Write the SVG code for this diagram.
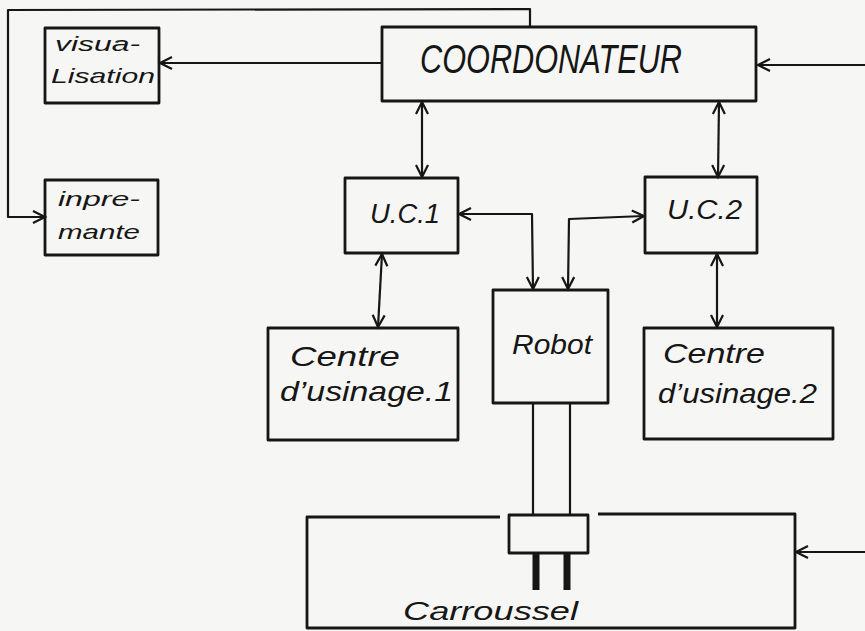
<svg xmlns="http://www.w3.org/2000/svg" width="865" height="631" viewBox="0 0 865 631">
<style>
.bx{fill:none;stroke:#161616;stroke-width:2.8;stroke-linejoin:round}
.ln{fill:none;stroke:#161616;stroke-width:2.2;stroke-linejoin:round}
.t{font-family:"Liberation Sans","DejaVu Sans",sans-serif;font-style:italic;fill:#161616}
</style>
<defs>
<marker id="ah" markerUnits="userSpaceOnUse" markerWidth="16" markerHeight="16" refX="13" refY="7" orient="auto-start-reverse">
<path d="M1,1 L13,7 L1,13" fill="none" stroke="#161616" stroke-width="2.2"/>
</marker>
</defs>
<rect width="865" height="631" fill="#f6f6f4"/>
<g id="connectors">
<line class="ln" x1="382" y1="63" x2="160" y2="63" marker-end="url(#ah)"/>
<polyline class="ln" points="530,27 530,9 8,10 8,217 45,217" marker-end="url(#ah)"/>
<line class="ln" x1="422" y1="102" x2="422" y2="177" marker-start="url(#ah)" marker-end="url(#ah)"/>
<line class="ln" x1="719" y1="102" x2="718" y2="177" marker-start="url(#ah)" marker-end="url(#ah)"/>
<line class="ln" x1="382" y1="254" x2="378" y2="327" marker-start="url(#ah)" marker-end="url(#ah)"/>
<line class="ln" x1="717" y1="254" x2="717" y2="327" marker-start="url(#ah)" marker-end="url(#ah)"/>
<polyline class="ln" points="459,214 532,214 533,289" marker-start="url(#ah)" marker-end="url(#ah)"/>
<polyline class="ln" points="568,289 569,219 644,216" marker-start="url(#ah)" marker-end="url(#ah)"/>
<line class="ln" x1="865" y1="65" x2="758" y2="65" marker-end="url(#ah)"/>
<line class="ln" x1="865" y1="552" x2="796" y2="552" marker-end="url(#ah)"/>
<line class="ln" x1="533" y1="404" x2="533" y2="515"/>
<line class="ln" x1="570" y1="404" x2="570" y2="515"/>
</g>
<g id="visualisation">
<rect class="bx" x="45" y="28" width="114" height="75"/>
<text class="t" x="55" y="51" font-size="20" textLength="85" lengthAdjust="spacingAndGlyphs">visua-</text>
<text class="t" x="51" y="83" font-size="21" textLength="104" lengthAdjust="spacingAndGlyphs">Lisation</text>
</g>
<g id="imprimante">
<rect class="bx" x="45" y="180" width="113" height="75"/>
<text class="t" x="58" y="206" font-size="21" textLength="82" lengthAdjust="spacingAndGlyphs">inpre-</text>
<text class="t" x="58" y="239" font-size="21" textLength="82" lengthAdjust="spacingAndGlyphs">mante</text>
</g>
<g id="coordonateur">
<rect class="bx" x="382" y="27" width="374" height="74"/>
<text class="t" x="420" y="73" font-size="40" textLength="262" lengthAdjust="spacingAndGlyphs">COORDONATEUR</text>
</g>
<g id="uc1">
<rect class="bx" x="345" y="178" width="113" height="75"/>
<text class="t" x="370" y="223" font-size="27" textLength="70" lengthAdjust="spacingAndGlyphs">U.C.1</text>
</g>
<g id="uc2">
<rect class="bx" x="645" y="177" width="112" height="76"/>
<text class="t" x="667" y="219" font-size="27" textLength="75" lengthAdjust="spacingAndGlyphs">U.C.2</text>
</g>
<g id="robot">
<rect class="bx" x="493" y="290" width="115" height="113"/>
<text class="t" x="512" y="354" font-size="28" textLength="80" lengthAdjust="spacingAndGlyphs">Robot</text>
</g>
<g id="centre1">
<rect class="bx" x="268" y="328" width="190" height="112"/>
<text class="t" x="290" y="366" font-size="28" textLength="110" lengthAdjust="spacingAndGlyphs">Centre</text>
<text class="t" x="280" y="401" font-size="28" textLength="173" lengthAdjust="spacingAndGlyphs">d’usinage.1</text>
</g>
<g id="centre2">
<rect class="bx" x="644" y="328" width="189" height="111"/>
<text class="t" x="663" y="363" font-size="28" textLength="102" lengthAdjust="spacingAndGlyphs">Centre</text>
<text class="t" x="658" y="403" font-size="28" textLength="159" lengthAdjust="spacingAndGlyphs">d’usinage.2</text>
</g>
<g id="carrousel">
<polyline class="bx" points="500,517 307,517 307,628 795,628 795,514 598,514"/>
<rect class="bx" x="509" y="515" width="79" height="38"/>
<rect x="532.5" y="553" width="7" height="37" fill="#161616"/>
<rect x="563.5" y="553" width="7" height="37" fill="#161616"/>
<text class="t" x="403" y="620" font-size="26" textLength="175" lengthAdjust="spacingAndGlyphs">Carroussel</text>
</g>
</svg>
